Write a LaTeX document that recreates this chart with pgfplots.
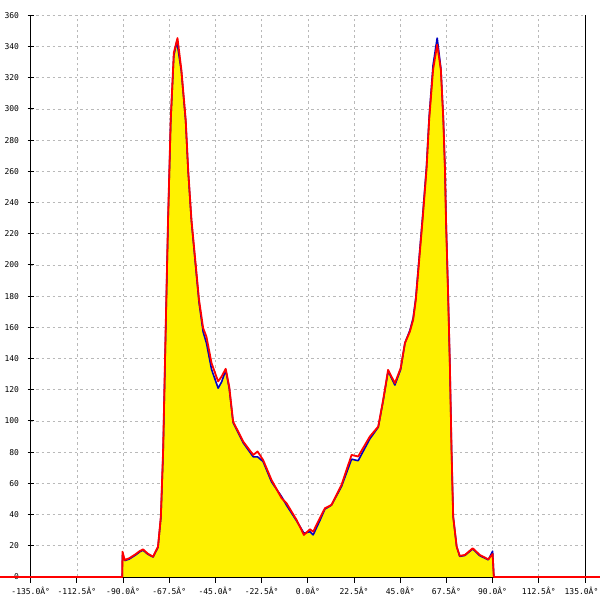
\documentclass[border=0pt]{standalone}
\usepackage{fontspec}
\setmonofont{DejaVu Sans Mono}
\usepackage{pgfplots}
\pgfplotsset{compat=1.18}
\usepackage{pgfplotstable}
\pgfplotstableread{
x y
-150 0
-90.4 0
-90.3 16.2
-89.2 10.9
-87 12
-84 14.5
-82 16.5
-80.3 17.7
-78 15
-75.4 13
-73 19.4
-71.6 38.7
-70.5 81
-69.3 156
-68.1 229
-66.8 293
-65.3 335.8
-63.5 345.4
-61.6 325
-59.5 293
-58.3 261
-56.7 229
-53 177.6
-51 159.5
-49.4 154
-46.9 137
-43.7 125.3
-42 128.5
-40 133.4
-38.3 122
-36.4 99.6
-31.5 86.8
-26.6 78.2
-24.5 80.4
-21.8 75
-17.7 62.2
-12.8 50.5
-10.4 47.3
-5.5 36.6
-1.9 26.9
1 30.6
2.6 29
5.8 37.6
8.3 44
11.5 46.2
16.4 59
21.3 78.2
24.5 77.2
30.2 90
34.3 96.4
36.7 113.5
39.1 132.7
42.4 124.2
45.2 133.8
47.3 149.9
49.7 157.3
51.3 164.8
52.6 177.6
55.9 229
57.8 261
59.1 293
61 325
63 341.2
64.8 325
66 293
66.8 261
67.3 229
68.4 177.6
69.2 134.9
70 81.4
70.8 38.7
72.5 19.4
74 13.5
76.5 14.1
80.3 18.4
83.8 14.1
87.9 11.3
90 14.7
90.6 0
142.3 0
}\redtab
\pgfplotstableread{
x y
-90.4 0
-90.3 14
-89.2 10.5
-87 11.5
-84 14
-82 16
-80.3 17.2
-78 14.6
-75.4 12.8
-73 19
-71.6 38
-70.5 80
-69.3 155
-68.1 228
-66.8 292
-65.3 334
-63.8 343.5
-61.6 324
-59.5 292
-58.3 260
-56.7 228
-53 176
-51 157
-49.4 150
-46.9 133
-43.7 121
-42 125
-40 132.5
-38.3 121
-36.4 99
-31.5 86
-26.6 77
-24.5 77
-21.8 74
-17.7 61
-12.8 51.5
-10.4 46
-5.5 36
-1.9 28
1 29
2.6 27
5.8 36
8.3 43.5
11.5 46
16.4 58
21.3 75.5
24.5 74.5
30.2 88.5
34.3 96
36.7 113
39.1 132
42.4 123
45.2 133
47.3 150
49.7 158
51.3 166
52.6 179
55.9 231
57.8 263
59.1 295
61 328
63 345.4
64.8 326
66 294
66.8 262
67.3 230
68.4 178
69.2 135
70 81.4
70.8 38.7
72.5 19.4
74 13.2
76.5 13.8
80.3 18
83.8 13.6
87.9 11
90 16.5
90.6 0
}\bluetab
\begin{document}
\begin{tikzpicture}
\begin{axis}[
  scale only axis,
  width=554.3pt, height=561.7pt,
  xmin=-135, xmax=135, ymin=0, ymax=360,
  clip=false,
  axis x line=bottom, axis y line=left,
  axis line style={-, black, line width=0.9pt},
  xtick={-135,-112.5,...,135},
  xticklabels={{-135.0Â°},{-112.5Â°},{-90.0Â°},{-67.5Â°},{-45.0Â°},{-22.5Â°},{0.0Â°},{22.5Â°},{45.0Â°},{67.5Â°},{90.0Â°},{112.5Â°},{135.0Â°\hspace*{7pt}}},
  ytick={0,20,...,360},
  yticklabels={0,20,40,60,80,100,120,140,160,180,200,220,240,260,280,300,320,340,360},
  xtick align=outside, ytick align=center,
  major tick length=6pt,
  tick style={black, line width=0.9pt},
  ticklabel style={font=\fontsize{8}{9}\selectfont\ttfamily, inner sep=0pt},
  xticklabel style={yshift=-3.5pt},
  yticklabel style={xshift=-8.5pt},
  grid=major,
  major grid style={gray!55, dash pattern=on 2.5pt off 3pt, line width=0.6pt},
]
\draw[black, line width=0.9pt] (rel axis cs:1,0) -- (rel axis cs:1,1);
\addplot[fill=yellow, draw=none] table[x=x,y=y] {\bluetab} \closedcycle;
\addplot[color=blue!75!black, line width=1.6pt, line join=round] table[x=x,y=y] {\bluetab};
\addplot[color=red, line width=1.8pt, line join=round] table[x=x,y=y] {\redtab};
\coordinate (bbl) at (rel axis cs:-0.0554,-0.0409);
\coordinate (btr) at (rel axis cs:1.0271,1.0272);
\end{axis}
\pgfresetboundingbox
\useasboundingbox (bbl) rectangle (btr);
\end{tikzpicture}
\end{document}
